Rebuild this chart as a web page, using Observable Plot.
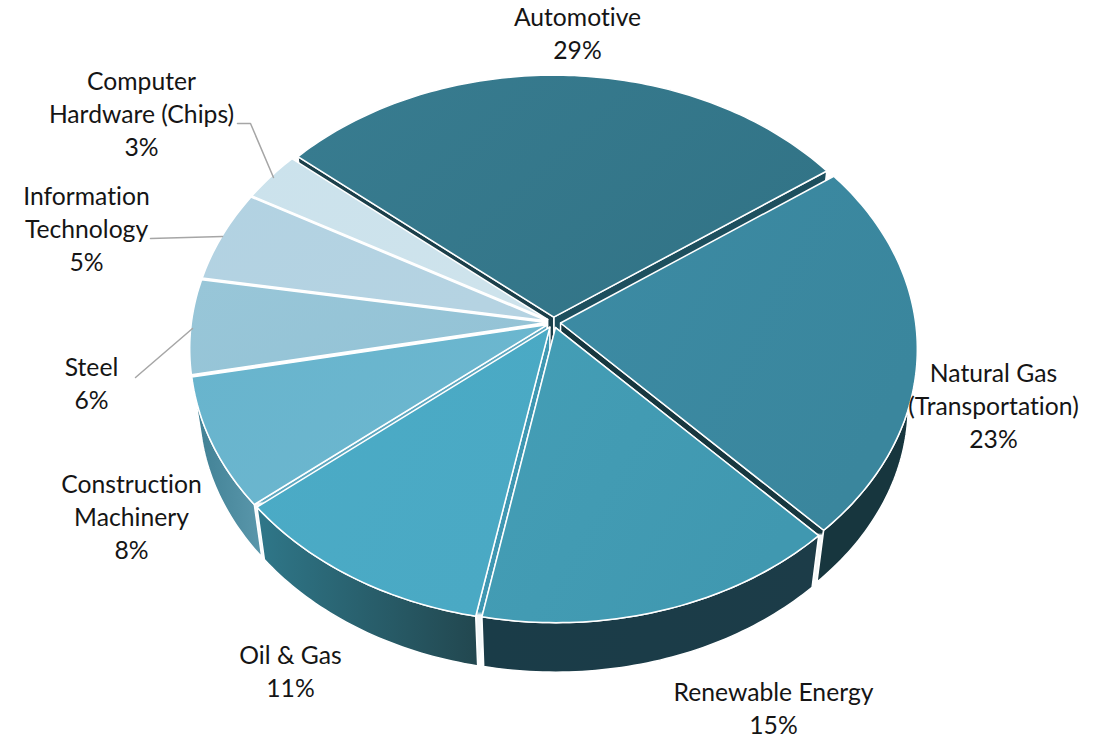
<!DOCTYPE html>
<html>
<head>
<meta charset="utf-8">
<style>html,body{margin:0;padding:0;background:#fff}svg{display:block}text{font-variant-ligatures:none;font-feature-settings:"liga" 0}</style>
<script src="https://cdn.jsdelivr.net/npm/d3@7"></script>
<script src="https://cdn.jsdelivr.net/npm/@observablehq/plot@0.6"></script>
</head>
<body>
<script>
// ---- data ----
const categories = ["Automotive","Natural Gas\n(Transportation)","Renewable Energy","Oil & Gas","Construction\nMachinery","Steel","Information\nTechnology","Computer\nHardware (Chips)"];
// shares; the labels show them rounded
const shares = [29,22.8,15.1,11.06,7.84,5.7,5.49,3.01];

// ---- styles ----
const topFrom   = ["#387c90","#3c8ba4","#449eb6","#4babc6","#68b4cd","#98c6d8","#b2d2e2","#cbe2ec"];
const topTo     = ["#327487","#3a869d","#4098b0","#4aa9c4","#6cb7cf","#94c3d6","#b5d3e2","#cee3ec"];
const sideFrom  = ["#1e5a6b","#17363e","#1a3c48","#2f7789","#3f7f93","#fff","#fff","#fff"];
const sideTo    = ["#1e5a6b","#17363e","#1c3c48","#22474f","#5a97ab","#fff","#fff","#fff"];
// wall seen through the gap under a slice's lower cut, and how far down it stays coloured
const wallFill  = ["#1b3f4a","#17373f","#1a3c48","#3f97b2","#5fa8c0","#fff","#fff","#fff"];
const autoEndWall = "#1d4f5e";
const wallStop  = [1,0.81,1,0.84,0.76,1,1,1];

// ---- layout (frame pixels) ----
const W = 1109, H = 739;
const cx = 553, cy = 322, k = 355, b = 266, persp = 0.095, explode = 0.02;
const floorScale = 0.975, floorDrop = 57;
const startDeg = -50;
const labelX = [577,993,773,290,131,91,86,141];
const labelY = [31,404,706,669,515,381,227,112];
const leaderPaths = [
  {id:"chips", xs:[237,250,273], ys:[123,123,177]},
  {id:"it",    xs:[150,222],     ys:[238,236]},
  {id:"steel", xs:[135,192],     ys:[377,328]}
];

// ---- geometry, from the shares ----
const slices = d3.pie().sort(null).startAngle(startDeg*Math.PI/180).endAngle((startDeg+360)*Math.PI/180)(shares);
function project(angle, r, mid, floor){
  const u = r*Math.sin(angle) + explode*Math.sin(mid);
  const v = -r*Math.cos(angle) - explode*Math.cos(mid);
  const d = 1 - persp*v;
  let X = k*u/d, Y = b*v/d;
  if (floor){ X *= floorScale; Y = Y*floorScale + floorDrop; }
  return {x: cx+X, y: cy+Y};
}
const arcAngles = (a0,a1) => { const n = Math.max(2,Math.ceil((a1-a0)/(Math.PI/180))); return d3.range(n+1).map(i=>a0+(a1-a0)*i/n); };

const order = d3.range(slices.length).sort((i,j)=>{
  const mi=(slices[i].startAngle+slices[i].endAngle)/2, mj=(slices[j].startAngle+slices[j].endAngle)/2;
  return -Math.cos(mi)+Math.cos(mj);
});

const poly = (pts, fill) => Plot.line(pts,{x:"x",y:"y",curve:"linear-closed",fill,stroke:"#fff",strokeWidth:1.5,strokeLinejoin:"round"});
const marks = [];
for (const i of order){
  const s = slices[i], a0 = s.startAngle, a1 = s.endAngle, mid=(a0+a1)/2;
  const wall = (a, fill) => poly([project(a,0,mid,false),project(a,1,mid,false),project(a,1,mid,true),project(a,0,mid,true)], fill);
  const lowerCut = i===1 ? a1 : a0;
  if (i===0) marks.push(wall(a1, autoEndWall));
  else if (i===2) marks.push(wall(a1,"#1a3c48"));
  marks.push(wall(lowerCut,`url(#wall${i})`));
  const ang = arcAngles(a0,a1);
  if (i!==0) marks.push(poly([...ang.map(a=>project(a,1,mid,false)),...ang.slice().reverse().map(a=>project(a,1,mid,true))],`url(#side${i})`));
  marks.push(poly([project(0,0,mid,false),...ang.map(a=>project(a,1,mid,false))],`url(#top${i})`));
}
for (const l of leaderPaths){
  marks.push(Plot.line(d3.range(l.xs.length).map(j=>({x:l.xs[j],y:l.ys[j]})),{x:"x",y:"y",stroke:"#a6a6a6",strokeWidth:1.5}));
}
const labels = categories.map((c,i)=>({text:`${c}\n${Math.round(shares[i])}%`,x:labelX[i],y:labelY[i]}));
marks.push(Plot.text(labels,{x:"x",y:"y",text:"text",fill:"#151515",fontSize:24.7,lineHeight:1.336,fontFamily:"Lato, 'Open Sans', sans-serif",textAnchor:"middle"}));

const plot = Plot.plot({
  width:W,height:H,margin:0,
  x:{domain:[0,W],range:[0,W],axis:null},
  y:{domain:[0,H],range:[0,H],axis:null},
  style:{background:"#fff",overflow:"visible"},
  marks
});
const defs = d3.select(plot).insert("defs",":first-child");
function grad(id,c0,c1,x2,y2,stops){
  const g = defs.append("linearGradient").attr("id",id).attr("x1",0).attr("y1",0).attr("x2",x2).attr("y2",y2);
  (stops||[[0,c0],[1,c1]]).forEach(([o,c])=>g.append("stop").attr("offset",o).attr("stop-color",c));
}
slices.forEach((s,i)=>{
  grad(`top${i}`,topFrom[i],topTo[i],1,0.5);
  grad(`side${i}`,sideFrom[i],sideTo[i],1,0);
  const w = wallStop[i];
  grad(`wall${i}`,null,null,0,1, w<1 ? [[0,wallFill[i]],[w,wallFill[i]],[w+0.01,"#f4f8f9"],[1,"#f4f8f9"]] : [[0,wallFill[i]],[1,wallFill[i]]]);
});
document.body.appendChild(plot);
</script>
</body>
</html>
